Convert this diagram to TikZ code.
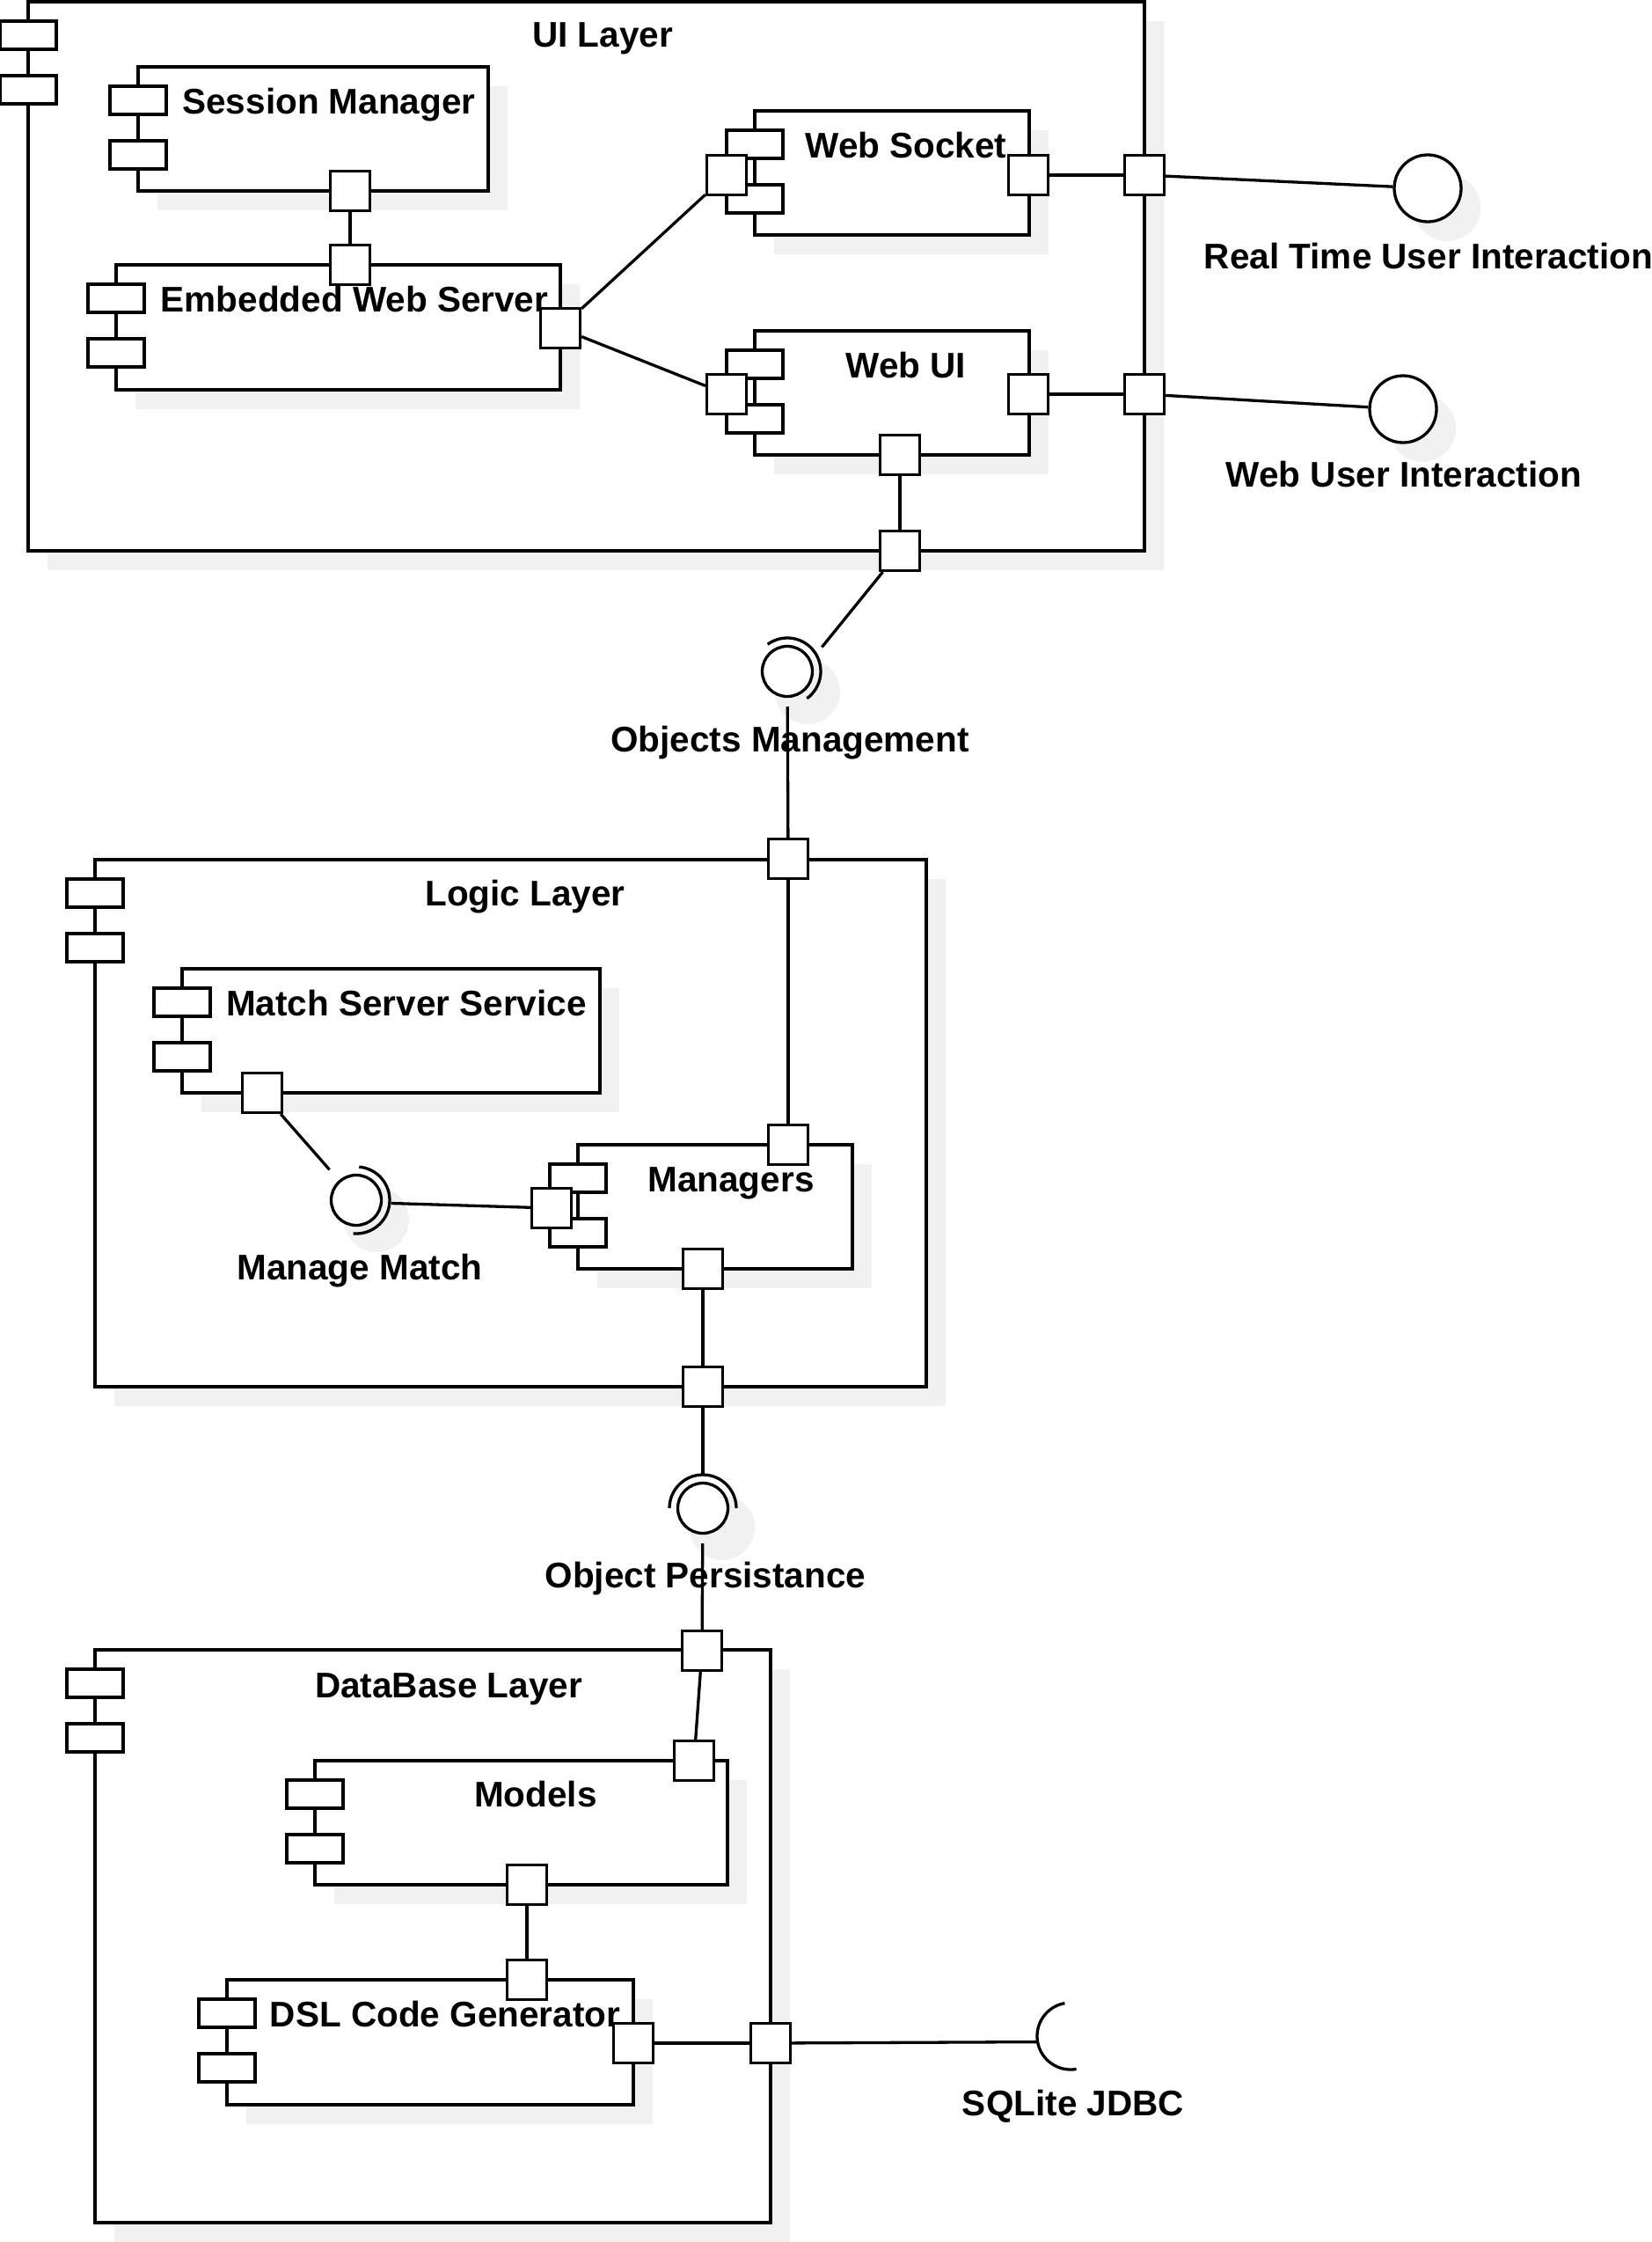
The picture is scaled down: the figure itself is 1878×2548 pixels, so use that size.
\documentclass[tikz,border=0pt]{standalone}
\usepackage{fontspec}
\setmainfont{Liberation Sans}
\usetikzlibrary{shadows,calc}
\definecolor{shadowgray}{RGB}{241,241,241}
\tikzset{
  ln/.style={line width=3.3pt},
  compbox/.style={draw, fill=white, ln, inner sep=0pt,
    general shadow={fill=shadowgray, shadow xshift=22pt, shadow yshift=-22pt}},
  icon/.style={draw, fill=white, ln, inner sep=0pt,
    minimum width=64pt, minimum height=32pt},
  port/.style={draw, fill=white, ln, inner sep=0pt,
    minimum width=45pt, minimum height=45pt},
  ball/.style={circle, draw, fill=white, ln, inner sep=0pt, minimum size=76pt},
  ifc/.style={circle, draw, fill=white, ln, inner sep=0pt, minimum size=57pt},
  lbl/.style={anchor=base, inner sep=0pt, font=\fontsize{40.5}{48}\selectfont\bfseries},
}
% component box: name, left, top, right, bottom
\newcommand{\compnode}[5]{%
  \node[compbox, minimum width={#4-#2}, minimum height={#5-#3}] (#1) at ({(#2+#4)/2},{(#3+#5)/2}) {};
  \node[icon] (#1-a) at (#2,{#3+38}) {};
  \node[icon] (#1-b) at (#2,{#3+100}) {};
}
\begin{document}
\begin{tikzpicture}[x=1pt,y=-1pt]
\fill[white] (0,0) rectangle (1878,2548);
\useasboundingbox (0,0) rectangle (1878,2548);

% ---------- UI layer ----------
\compnode{ui}{32}{2}{1301}{626}
\compnode{sm}{157}{76}{555}{217}
\compnode{ews}{132}{301}{637}{443}
\compnode{ws}{858}{126}{1170}{267}
\compnode{wui}{858}{376}{1170}{517}

% ---------- Logic layer ----------
\compnode{logic}{108}{977}{1053}{1576}
\compnode{mss}{207}{1101}{682}{1242}
\compnode{man}{657}{1301}{969}{1442}

% ---------- Database layer ----------
\compnode{db}{108}{1875}{876}{2526}
\compnode{mod}{358}{2001}{827}{2142}
\compnode{dsl}{258}{2250}{720}{2392}

% ---------- labels ----------
\node[lbl] at (685,54) {UI Layer};
\node[lbl] at (374,129) {Session Manager};
\node[lbl] at (403,354) {Embedded Web Server};
\node[lbl] at (1030,179) {Web Socket};
\node[lbl] at (1030,429) {Web UI};
\node[lbl] at (1624,305) {Real Time User Interaction};
\node[lbl] at (1596,553) {Web User Interaction};
\node[lbl] at (898,854) {Objects Management};
\node[lbl] at (597,1029) {Logic Layer};
\node[lbl] at (462,1154) {Match Server Service};
\node[lbl] at (831,1354) {Managers};
\node[lbl] at (409,1454) {Manage Match};
\node[lbl] at (802,1804) {Object Persistance};
\node[lbl] at (510,1929) {DataBase Layer};
\node[lbl] at (609,2053) {Models};
\node[lbl] at (506,2303) {DSL Code Generator};
\node[lbl] at (1220,2404) {SQLite JDBC};

% ---------- ports ----------
\node[port] (smB) at (398,217) {};
\node[port] (ewsT) at (398,301) {};
\node[port] (ewsR) at (637,373) {};
\node[port] (wsL) at (826,199) {};
\node[port] (wsR) at (1169,199) {};
\node[port] (uiR1) at (1301,199) {};
\node[port] (wuiL) at (826,448) {};
\node[port] (wuiR) at (1169,448) {};
\node[port] (uiR2) at (1301,448) {};
\node[port] (wuiB) at (1023,517) {};
\node[port] (uiB) at (1023,626) {};
\node[port] (logT) at (896,976) {};
\node[port] (manT) at (896,1301) {};
\node[port] (manL) at (627,1373) {};
\node[port] (manB) at (799,1442) {};
\node[port] (logB) at (799,1576) {};
\node[port] (mssB) at (298,1242) {};
\node[port] (dbT) at (798,1876) {};
\node[port] (modT) at (789,2001) {};
\node[port] (modB) at (599,2142) {};
\node[port] (dslT) at (599,2250) {};
\node[port] (dslR) at (720,2322) {};
\node[port] (dbR) at (876,2322) {};

% ---------- provided interfaces (lollipops) ----------
\fill[shadowgray] (1645,236) circle[radius=38];
\node[ball] (rt) at (1623,214) {};
\fill[shadowgray] (1617,487) circle[radius=38];
\node[ball] (wu) at (1595,465) {};

% ---------- assembly connectors (ball and socket) ----------
\fill[shadowgray] (918,786) circle[radius=37];
\node[ifc] (om) at (895,763) {};
\draw[ln] ($(om.center)+(-126:38)$) arc[start angle=-126, end angle=54, radius=38];
\coordinate (omS) at ($(om.center)+(-35:48)$);

\fill[shadowgray] (428,1386) circle[radius=37];
\node[ifc] (mm) at (405,1364) {};
\draw[ln] ($(mm.center)+(-85:38)$) arc[start angle=-85, end angle=95, radius=38];
\coordinate (mmS) at ($(mm.center)+(5:40)$);

\fill[shadowgray] (821,1736) circle[radius=37];
\node[ifc] (op) at (799,1714) {};
\draw[ln] ($(op.center)+(-180:38)$) arc[start angle=-180, end angle=0, radius=38];
\coordinate (opS) at ($(op.center)+(-90:38)$);

% required interface (socket only)
\coordinate (sq) at (1217,2314);
\draw[ln] ($(sq)+(80:38)$) arc[start angle=80, end angle=260, radius=38];
\coordinate (sqS) at ($(sq)+(170:38)$);

% ---------- connectors ----------
\draw[ln] (smB) -- (ewsT);
\draw[ln] (ewsR) -- (wsL);
\draw[ln] (ewsR) -- (wuiL);
\draw[ln] (wsR) -- (uiR1);
\draw[ln] (uiR1) -- (rt);
\draw[ln] (wuiR) -- (uiR2);
\draw[ln] (uiR2) -- (wu);
\draw[ln] (wuiB) -- (uiB);
\draw[ln] (uiB) -- (omS);
\draw[ln, shorten <=10pt] (om) -- (logT);
\draw[ln] (logT) -- (manT);
\draw[ln, shorten >=16pt] (mssB) -- (mm);
\draw[ln] (mmS) -- (manL);
\draw[ln] (manB) -- (logB);
\draw[ln] (logB) -- (opS);
\draw[ln, shorten <=10pt] (op) -- (dbT);
\draw[ln] (dbT) -- (modT);
\draw[ln] (modB) -- (dslT);
\draw[ln] (dslR) -- (dbR);
\draw[ln] (dbR) -- (sqS);
\end{tikzpicture}
\end{document}
